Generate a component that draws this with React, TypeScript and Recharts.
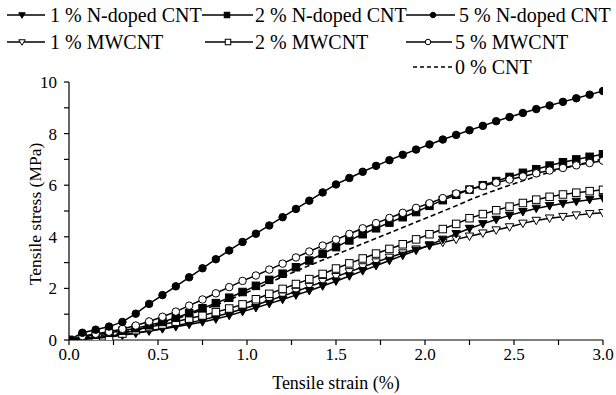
import React from 'react';
import { LineChart, Line, XAxis, YAxis } from 'recharts';

const strain = [0, 0.075, 0.15, 0.225, 0.3, 0.375, 0.45, 0.525, 0.6, 0.675, 0.75, 0.825, 0.9, 0.975, 1.05, 1.125, 1.2, 1.275, 1.35, 1.425, 1.5, 1.575, 1.65, 1.725, 1.8, 1.875, 1.95, 2.025, 2.1, 2.175, 2.25, 2.325, 2.4, 2.475, 2.55, 2.625, 2.7, 2.775, 2.85, 2.925, 3.0];

const nDoped1 = [0, 0.05, 0.1, 0.15, 0.2, 0.27, 0.35, 0.43, 0.51, 0.6, 0.7, 0.81, 0.95, 1.1, 1.25, 1.41, 1.57, 1.74, 1.91, 2.09, 2.28, 2.48, 2.68, 2.88, 3.08, 3.28, 3.47, 3.68, 3.9, 4.12, 4.32, 4.5, 4.67, 4.83, 4.97, 5.1, 5.2, 5.29, 5.37, 5.44, 5.5];
const nDoped2 = [0, 0.12, 0.2, 0.28, 0.36, 0.46, 0.57, 0.7, 0.86, 1.04, 1.23, 1.43, 1.64, 1.86, 2.1, 2.33, 2.57, 2.82, 3.08, 3.34, 3.6, 3.86, 4.1, 4.33, 4.55, 4.76, 4.96, 5.2, 5.42, 5.63, 5.83, 6.0, 6.16, 6.32, 6.48, 6.62, 6.76, 6.89, 7.0, 7.1, 7.2];
const nDoped5 = [0, 0.28, 0.4, 0.52, 0.7, 1.02, 1.4, 1.74, 2.08, 2.43, 2.78, 3.13, 3.47, 3.8, 4.12, 4.44, 4.76, 5.08, 5.4, 5.72, 6.03, 6.28, 6.52, 6.75, 6.97, 7.18, 7.38, 7.58, 7.77, 7.95, 8.13, 8.3, 8.48, 8.64, 8.8, 8.95, 9.09, 9.23, 9.37, 9.51, 9.65];
const mw1 = [0, 0.04, 0.08, 0.12, 0.18, 0.26, 0.35, 0.45, 0.55, 0.66, 0.78, 0.91, 1.05, 1.2, 1.36, 1.53, 1.7, 1.88, 2.07, 2.26, 2.45, 2.64, 2.83, 3.02, 3.2, 3.37, 3.52, 3.65, 3.78, 3.9, 4.02, 4.14, 4.26, 4.38, 4.52, 4.63, 4.72, 4.78, 4.84, 4.89, 4.93];
const mw2 = [0, 0.04, 0.08, 0.12, 0.25, 0.38, 0.5, 0.6, 0.71, 0.83, 0.95, 1.08, 1.22, 1.38, 1.58, 1.79, 1.98, 2.17, 2.36, 2.56, 2.77, 2.97, 3.16, 3.35, 3.53, 3.71, 3.9, 4.1, 4.3, 4.5, 4.72, 4.88, 5.03, 5.17, 5.31, 5.44, 5.55, 5.64, 5.71, 5.77, 5.82];
const mw5 = [0, 0.15, 0.24, 0.32, 0.43, 0.56, 0.72, 0.9, 1.1, 1.33, 1.57, 1.81, 2.05, 2.29, 2.5, 2.73, 2.96, 3.2, 3.43, 3.66, 3.89, 4.11, 4.33, 4.53, 4.73, 4.93, 5.12, 5.3, 5.5, 5.68, 5.83, 5.97, 6.1, 6.22, 6.34, 6.46, 6.57, 6.67, 6.77, 6.86, 6.95];
const cnt0 = [0, 0.08, 0.15, 0.22, 0.3, 0.4, 0.52, 0.66, 0.82, 0.99, 1.17, 1.36, 1.56, 1.77, 1.99, 2.22, 2.45, 2.67, 2.89, 3.1, 3.31, 3.52, 3.73, 3.94, 4.15, 4.36, 4.57, 4.78, 4.99, 5.2, 5.43, 5.63, 5.82, 6.0, 6.17, 6.34, 6.5, 6.65, 6.78, 6.9, 7.02];

const xTicks = [0, 0.25, 0.5, 0.75, 1, 1.25, 1.5, 1.75, 2, 2.25, 2.5, 2.75, 3];
const yTicks = [0, 1, 2, 3, 4, 5, 6, 7, 8, 9, 10];

const data = strain.map((s, i) => ({
  strain: s,
  n1: nDoped1[i],
  n2: nDoped2[i],
  n5: nDoped5[i],
  m1: mw1[i],
  m2: mw2[i],
  m5: mw5[i],
  c0: cnt0[i],
}));

const FONT = 'Liberation Serif';
const fontStyle = { fontFamily: FONT };

type Shape = 'tri' | 'square' | 'circle';

function Marker({ shape, filled, cx, cy, s }: { shape: Shape; filled: boolean; cx: number; cy: number; s: number }) {
  const fill = filled ? '#000' : '#fff';
  if (shape === 'circle') {
    return <circle cx={cx} cy={cy} r={s / 2} fill={fill} stroke="#000" strokeWidth={1} />;
  }
  if (shape === 'square') {
    return <rect x={cx - s / 2} y={cy - s / 2} width={s} height={s} fill={fill} stroke="#000" strokeWidth={1} />;
  }
  const h = s * 0.5;
  return (
    <polygon
      points={`${cx - h - 0.5},${cy - h + 0.5} ${cx + h + 0.5},${cy - h + 0.5} ${cx},${cy + h + 0.5}`}
      fill={fill}
      stroke="#000"
      strokeWidth={1}
    />
  );
}

const makeDot = (shape: Shape, filled: boolean) => (props: any) => {
  const { cx, cy, index } = props;
  if (cx == null || cy == null) return <g key={`e-${shape}-${filled}-${index}`} />;
  return <Marker key={`d-${shape}-${filled}-${index}`} shape={shape} filled={filled} cx={cx} cy={cy} s={7.5} />;
};

const XTick = (props: any) => {
  const { x, y, payload } = props;
  const v = payload.value as number;
  if (Math.abs(v * 2 - Math.round(v * 2)) > 1e-6) return <g />;
  return (
    <text x={x} y={y} dy="0.72em" textAnchor="middle" fontSize={17} fontFamily={FONT} style={fontStyle} fill="#000">
      {v.toFixed(1)}
    </text>
  );
};

const YTick = (props: any) => {
  const { x, y, payload } = props;
  const v = payload.value as number;
  if (v % 2 !== 0) return <g />;
  return (
    <text x={x} y={y} dy="0.35em" textAnchor="end" fontSize={17} fontFamily={FONT} style={fontStyle} fill="#000">
      {v}
    </text>
  );
};

function LegendItem({ x1, x2, mx, y, tx, label, shape, filled, dashed }: any) {
  return (
    <g>
      <line x1={x1} x2={x2} y1={y} y2={y} stroke="#000" strokeWidth={1.6} strokeDasharray={dashed ? '4 3' : undefined} />
      {shape ? <Marker shape={shape} filled={filled} cx={mx} cy={y} s={5.5} /> : null}
      <text x={tx} y={y + 6.5} fontSize={20} fontFamily={FONT} style={fontStyle} fill="#000">
        {label}
      </text>
    </g>
  );
}

export default function App() {
  return (
    <div style={{ position: 'absolute', left: 0, top: 0, width: 616, height: 395, fontFamily: FONT }}>
      <LineChart width={616} height={395} data={data} margin={{ top: 82, right: 13, left: 8, bottom: 0 }}>
        <XAxis
          dataKey="strain"
          type="number"
          domain={[0, 3]}
          ticks={xTicks}
          interval={0}
          tick={XTick}
          tickSize={5}
          tickMargin={3}
          axisLine={{ stroke: '#000', strokeWidth: 1.2 }}
          tickLine={{ stroke: '#000', strokeWidth: 1.2 }}
          height={55}
          allowDataOverflow
        />
        <YAxis
          type="number"
          domain={[0, 10]}
          ticks={yTicks}
          interval={0}
          tick={YTick}
          tickSize={5}
          tickMargin={7}
          axisLine={{ stroke: '#000', strokeWidth: 1.2 }}
          tickLine={{ stroke: '#000', strokeWidth: 1.2 }}
          width={61}
          allowDataOverflow
        />
        <Line dataKey="c0" stroke="#000" strokeWidth={1.6} strokeDasharray="5 3" dot={false} isAnimationActive={false} />
        <Line dataKey="m1" stroke="#000" strokeWidth={1.5} dot={makeDot('tri', false)} isAnimationActive={false} />
        <Line dataKey="n1" stroke="#000" strokeWidth={1.5} dot={makeDot('tri', true)} isAnimationActive={false} />
        <Line dataKey="m2" stroke="#000" strokeWidth={1.5} dot={makeDot('square', false)} isAnimationActive={false} />
        <Line dataKey="n2" stroke="#000" strokeWidth={1.5} dot={makeDot('square', true)} isAnimationActive={false} />
        <Line dataKey="m5" stroke="#000" strokeWidth={1.5} dot={makeDot('circle', false)} isAnimationActive={false} />
        <Line dataKey="n5" stroke="#000" strokeWidth={1.5} dot={makeDot('circle', true)} isAnimationActive={false} />
      </LineChart>
      <svg width={616} height={395} style={{ position: 'absolute', left: 0, top: 0, pointerEvents: 'none' }}>
        <LegendItem x1={7} x2={45} mx={22} y={15} tx={50} label="1 % N-doped CNT" shape="tri" filled />
        <LegendItem x1={202} x2={253} mx={227} y={15} tx={255} label="2 % N-doped CNT" shape="square" filled />
        <LegendItem x1={406} x2={455} mx={433} y={15} tx={459} label="5 % N-doped CNT" shape="circle" filled />
        <LegendItem x1={7} x2={45} mx={22} y={42} tx={50} label="1 % MWCNT" shape="tri" filled={false} />
        <LegendItem x1={205} x2={253} mx={228} y={42} tx={255} label="2 % MWCNT" shape="square" filled={false} />
        <LegendItem x1={406} x2={452} mx={428} y={42} tx={455} label="5 % MWCNT" shape="circle" filled={false} />
        <LegendItem x1={413} x2={452} y={67} tx={455} label="0 % CNT" dashed />
        <text x={336} y={389} textAnchor="middle" fontSize={18} fontFamily={FONT} style={fontStyle} fill="#000">
          Tensile strain (%)
        </text>
        <text
          x={0}
          y={0}
          transform="translate(41,214) rotate(-90)"
          textAnchor="middle"
          fontSize={17.5}
          fontFamily={FONT}
          style={fontStyle}
          fill="#000"
        >
          Tensile stress (MPa)
        </text>
      </svg>
    </div>
  );
}
